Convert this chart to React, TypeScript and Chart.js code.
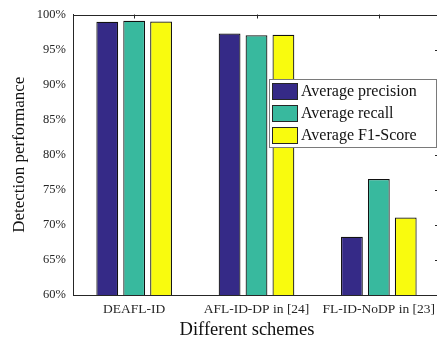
import React, { useEffect, useRef } from "react";
import { Chart, registerables } from "chart.js";

Chart.register(...registerables);

const categories = ["DEAFL-ID", "AFL-ID-DP in [24]", "FL-ID-NoDP in [23]"];
const seriesLabels = ["Average precision", "Average recall", "Average F1-Score"];
const precision = [98.95, 97.3, 68.3];
const recall = [99.1, 97.05, 76.55];
const f1Score = [99.0, 97.1, 71.05];
const yTicks = [60, 65, 70, 75, 80, 85, 90, 95, 100];
const colors = ["#352A87", "#38B99E", "#F9FB0E"];
const xTitle = "Different schemes";
const yTitle = "Detection performance";

const FONT = "'Liberation Serif', 'Times New Roman', serif";

const framePlugin = {
  id: "framePlugin",
  afterDatasetsDraw(chart: any) {
    const { ctx, chartArea } = chart;
    const { left, right, top, bottom } = chartArea;
    const xs = chart.scales.x;
    const ys = chart.scales.y;
    ctx.save();
    ctx.strokeStyle = "#262626";
    ctx.lineWidth = 1;
    ctx.beginPath();
    ctx.moveTo(left, Math.round(top) + 0.5);
    ctx.lineTo(right, Math.round(top) + 0.5);
    ctx.moveTo(Math.round(right) - 0.5, top);
    ctx.lineTo(Math.round(right) - 0.5, bottom);
    ctx.stroke();
    ctx.beginPath();
    for (let i = 0; i < categories.length; i++) {
      const px = Math.round(xs.getPixelForValue(i)) + 0.5;
      ctx.moveTo(px, top);
      ctx.lineTo(px, top + 4);
    }
    for (const v of yTicks) {
      const py = Math.round(ys.getPixelForValue(v)) + 0.5;
      ctx.moveTo(right, py);
      ctx.lineTo(right - 5, py);
    }
    ctx.stroke();

    // x title (centred on the visible part of the frame)
    ctx.fillStyle = "#111111";
    ctx.font = `18.5px ${FONT}`;
    ctx.textAlign = "center";
    ctx.textBaseline = "middle";
    ctx.fillText(xTitle, (left + 421) / 2, 330);

    // legend
    const lx = 269.5, ly = 79.5, lw = 167, lh = 68;
    ctx.fillStyle = "#ffffff";
    ctx.fillRect(lx, ly, lw, lh);
    ctx.strokeStyle = "#7a7a7a";
    ctx.strokeRect(lx, ly, lw, lh);
    ctx.font = `16px ${FONT}`;
    ctx.textBaseline = "middle";
    ctx.textAlign = "left";
    chart.data.datasets.forEach((ds: any, i: number) => {
      const sy = 83 + i * 22;
      ctx.fillStyle = ds.backgroundColor;
      ctx.fillRect(272.5, sy + 0.5, 25, 16);
      ctx.strokeStyle = "#262626";
      ctx.strokeRect(272.5, sy + 0.5, 25, 16);
      ctx.fillStyle = "#111111";
      ctx.fillText(ds.label, 301, sy + 9);
    });
    ctx.restore();
  },
};

export default function App() {
  const ref = useRef<HTMLCanvasElement>(null);
  useEffect(() => {
    if (!ref.current) return;
    const data = [precision, recall, f1Score];
    const chart = new Chart(ref.current, {
      type: "bar",
      data: {
        labels: categories,
        datasets: seriesLabels.map((label, i) => ({
          label,
          data: data[i],
          backgroundColor: colors[i],
          borderColor: "#111111",
          borderWidth: 1.2,
          borderSkipped: false,
          categoryPercentage: 0.66,
          barPercentage: 0.81,
        })),
      },
      options: {
        responsive: false,
        animation: false,
        devicePixelRatio: 1,
        layout: { padding: { left: 0, right: 5, top: 10, bottom: 0 } },
        plugins: {
          legend: { display: false },
          tooltip: { enabled: false },
        },
        scales: {
          x: {
            grid: { display: false, drawTicks: false },
            border: { display: true, color: "#262626", width: 1 },
            ticks: {
              color: "#262626",
              font: { family: FONT, size: 13.5 },
              padding: 6,
              maxRotation: 0,
              autoSkip: false,
            },
            title: { display: false },
            afterFit: (s: any) => {
              s.height = 48;
            },
          },
          y: {
            min: 60,
            max: 100,
            grid: { display: false, drawTicks: false },
            border: { display: true, color: "#262626", width: 1 },
            afterBuildTicks: (s: any) => {
              s.ticks = yTicks.map((v) => ({ value: v }));
            },
            ticks: {
              color: "#262626",
              font: { family: FONT, size: 12.5 },
              padding: 7,
              callback: (v: any) => `${v}%`,
            },
            title: {
              display: true,
              text: yTitle,
              color: "#111111",
              font: { family: FONT, size: 17 },
              padding: { top: 9, bottom: 0 },
            },
            afterFit: (s: any) => {
              s.width = 73;
            },
          },
        },
      },
      plugins: [framePlugin],
    });
    return () => chart.destroy();
  }, []);
  return (
    <div
      style={{
        position: "absolute",
        left: 0,
        top: 0,
        width: 437,
        height: 343,
        overflow: "hidden",
        background: "#fff",
      }}
    >
      <canvas ref={ref} width={445} height={343} style={{ display: "block" }} />
    </div>
  );
}
